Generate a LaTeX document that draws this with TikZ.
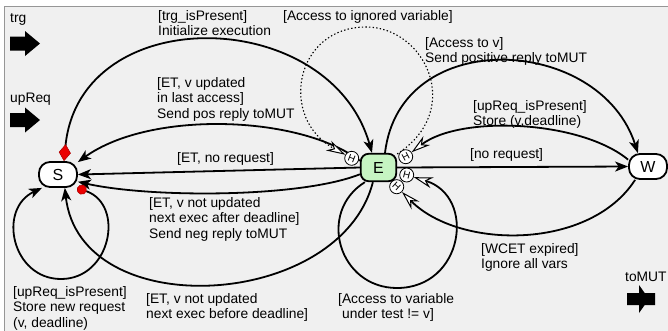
\documentclass[tikz,border=0pt]{standalone}
\usepackage{fontspec}
\usepackage{graphicx}
\setmainfont{Liberation Sans}
\usetikzlibrary{arrows.meta}
\pgfdeclarelayer{back}
\pgfdeclarelayer{edges}
\pgfsetlayers{back,edges,main}

\definecolor{panel}{RGB}{240,240,240}
\definecolor{panelline}{RGB}{150,150,150}
\definecolor{execfill}{RGB}{198,244,194}
\definecolor{markred}{RGB}{235,0,0}

\tikzset{
  tblack/.tip={Stealth[length=13pt,width=10pt,inset=3.5pt]},
  thist/.tip={Stealth[length=19pt,width=11pt,inset=6pt,fill=white,line width=1pt]},
  tdiam/.tip={Diamond[length=17pt,width=12pt,color=markred!75!black,fill=markred,line width=0.6pt]},
  tcirc/.tip={Circle[length=10pt,color=markred!75!black,fill=markred,line width=0.6pt]},
  state/.style={draw, line width=1.8pt, rounded corners=11pt, fill=white,
    minimum width=38pt, minimum height=25pt, inner sep=0pt,
    font=\fontsize{16}{16}\selectfont},
  hnode/.style={circle, draw, line width=0.8pt, fill=white, minimum size=14pt,
    inner sep=0pt, font=\fontsize{10}{10}\selectfont},
  lab/.style={anchor=north west, inner sep=0pt, align=left,
    font=\fontsize{13.8}{15.6}\selectfont},
  trans/.style={line width=1.8pt},
  ignored/.style={line width=1.1pt, dash pattern=on 1.4pt off 2.2pt},
  port/.style={fill=black},
}

\begin{document}
\begin{tikzpicture}[x=1pt,y=-1pt]
\useasboundingbox (0,0) rectangle (668,330);

% canvas
\begin{pgfonlayer}{back}
  \fill[panel] (4,6) rectangle (690,350);
  \draw[panelline, line width=0.8pt] (4.4,350) -- (4.4,6.4) -- (690,6.4);
\end{pgfonlayer}

% ports
\fill[port] (10,36.5) -- (25,36.5) -- (25,31) -- (40,43.5) -- (25,56) -- (25,50.5) -- (10,50.5) -- cycle;
\fill[port] (10,113) -- (25,113) -- (25,107.5) -- (40,120) -- (25,132.5) -- (25,127) -- (10,127) -- cycle;
\fill[port] (627,293) -- (639,293) -- (639,285) -- (644.7,293) -- (655,293) -- (655,305)
  -- (644.7,305) -- (639,313) -- (639,305) -- (627,305) -- cycle;
\node[lab] (ptrg) at (10,13) {trg};
\node[lab] (pup) at (10,92.5) {upReq};
\node[lab] (pmut) at (625,272) {toMUT};

% states
\node[state] (S) at (58,174.5) {S};
\node[state, fill=execfill, rounded corners=8pt, minimum width=35.5pt, minimum height=27.5pt] (E) at (378.5,167.5) {E};
\node[state] (W) at (648,166.5) {W};

% history markers
\node[hnode] (hL)  at (351.7,158.3) {\rotatebox[origin=c]{-21}{H}};
\node[hnode] (hUR) at (405.7,156.7) {\rotatebox[origin=c]{28}{H}};
\node[hnode] (hR)  at (406.7,175)   {\rotatebox[origin=c]{-14}{H}};
\node[hnode] (hLR) at (396.7,186.7) {\rotatebox[origin=c]{-42}{H}};

% transitions
\begin{pgfonlayer}{edges}
  \draw[trans, tdiam-tblack] (S.66) .. controls (80,0) and (330,5) .. (E.114);
  \draw[trans, -tblack] (E.160) .. controls (300,115) and (150,110) .. (S.32);
  \draw[trans, -tblack] (E.west) -- (S.east);
  \draw[trans, -tblack] (E.200) .. controls (300,198) and (150,198) .. (S.-20);
  \draw[trans, -tblack] (E.249) .. controls (340,310) and (80,325) .. (S.-63);
  \draw[trans, tcirc-tblack] (S.-35) .. controls (125,205) and (111,279) .. (61,279)
    .. controls (12,279) and (-3,209) .. (S.220);
  \draw[trans, -thist] (E.227) .. controls (316.5,212.5) and (339,288) .. (397,288)
    .. controls (463.6,288) and (476.7,196.5) .. (hR.-17);
  \draw[trans, -thist] (W.-134) .. controls (590,250) and (460,250) .. (hLR.-45);
  \draw[trans, -thist] (W.161) .. controls (580,120) and (460,115) .. (hUR.37);
  \draw[trans, -tblack] (E.66) .. controls (400,25) and (600,35) .. (W.127);
  \draw[trans, -tblack] (E.east) -- (W.west);
  \draw[ignored, -thist] (E.36) .. controls (465,110) and (425,27) .. (366,27)
    .. controls (295,27) and (278,118) .. (hL.151);
\end{pgfonlayer}

% guards and actions
\node[lab] (l1) at (158,10) {[trg\_isPresent]\\Initialize execution};
\node[lab] (l2) at (283,10) {[Access to ignored variable]};
\node[lab] (l3) at (425,37) {[Access to v]\\Send positive reply toMUT};
\node[lab] (l4) at (157,77) {[ET, v updated\\in last access]\\Send pos reply toMUT};
\node[lab] (l5) at (473,100) {[upReq\_isPresent]\\Store (v,deadline)};
\node[lab] (l6) at (177,152) {[ET, no request]};
\node[lab] (l7) at (470,148) {[no request]};
\node[lab] (l8) at (149,197) {[ET, v not updated\\next exec after deadline]\\Send neg reply toMUT};
\node[lab] (l9) at (13,286) {[upReq\_isPresent]\\Store new request\\(v, deadline)};
\node[lab] (l10) at (146,293) {[ET, v not updated\\next exec before deadline]};
\node[lab] (l11) at (338,293) {[Access to variable\\\hspace*{4pt}under test != v]};
\node[lab] (l12) at (481,243) {[WCET expired]\\Ignore all vars};
\end{tikzpicture}
\end{document}
